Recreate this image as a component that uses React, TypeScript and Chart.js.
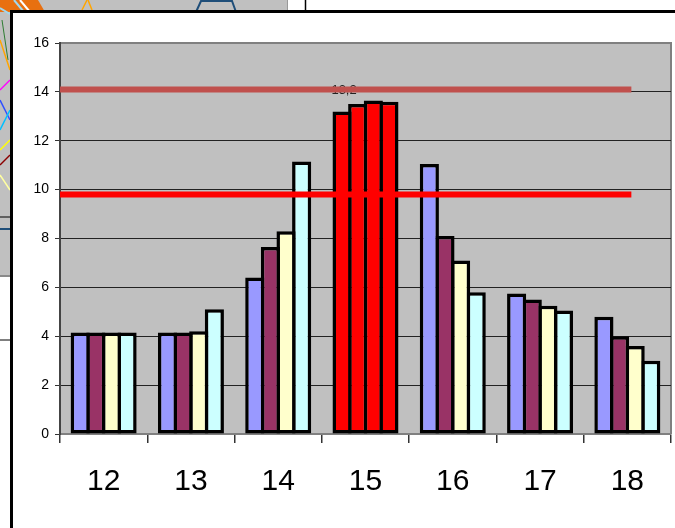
import React, { useEffect, useRef } from "react";
import { Chart, registerables } from "chart.js";

Chart.register(...registerables);

// ---- data ----
const categories = ["12", "13", "14", "15", "16", "17", "18"];
const series1 = [4.15, 4.15, 6.4, 13.2, 11.05, 5.75, 4.8];
const series2 = [4.15, 4.15, 7.65, 13.5, 8.1, 5.5, 4.0];
const series3 = [4.15, 4.2, 8.3, 13.65, 7.1, 5.25, 3.6];
const series4 = [4.15, 5.1, 11.15, 13.6, 5.8, 5.05, 3.0];
const seriesColors = ["#9999FF", "#993366", "#FFFFCC", "#CCFFFF"];
const highlightIndex = 3;
const highlightColor = "#FF0000";
const refLineValues = [14.1, 9.8];
const refLineColors = ["#C0504D", "#FF0000"];
const barLabelTexts = ["13,2"];
const barLabelSeries = [0];
const barLabelIndex = [3];

const FONT = "'Liberation Sans', Arial, sans-serif";
const BORDER = 3.5;

const plotBgPlugin = {
  id: "plotBg",
  beforeDraw(chart: any) {
    const { ctx, chartArea: a } = chart;
    ctx.save();
    ctx.fillStyle = "#C0C0C0";
    ctx.fillRect(a.left, a.top, a.right - a.left, a.bottom - a.top);
    ctx.strokeStyle = "#808080";
    ctx.lineWidth = 2;
    ctx.beginPath();
    ctx.moveTo(a.left, a.top);
    ctx.lineTo(a.right, a.top);
    ctx.lineTo(a.right, a.bottom);
    ctx.stroke();
    ctx.restore();
  },
};

const barLabelPlugin = {
  id: "barLabel",
  afterDatasetsDraw(chart: any) {
    const { ctx } = chart;
    ctx.save();
    ctx.font = `13px ${FONT}`;
    ctx.fillStyle = "#222";
    ctx.textAlign = "center";
    ctx.textBaseline = "middle";
    barLabelTexts.forEach((t, i) => {
      const el = chart.getDatasetMeta(barLabelSeries[i]).data[barLabelIndex[i]];
      if (el) ctx.fillText(t, el.x + 2, el.y - 21);
    });
    ctx.restore();
  },
};

const refLinePlugin = {
  id: "refLines",
  afterDatasetsDraw(chart: any) {
    const { ctx, chartArea: a, scales } = chart;
    const xEnd = scales.x.getPixelForValue(categories.length - 1) + 4;
    ctx.save();
    ctx.lineWidth = 6;
    ctx.lineCap = "butt";
    refLineValues.forEach((v, i) => {
      const y = scales.y.getPixelForValue(v);
      ctx.strokeStyle = refLineColors[i];
      ctx.beginPath();
      ctx.moveTo(a.left, y);
      ctx.lineTo(xEnd, y);
      ctx.stroke();
    });
    ctx.restore();
  },
};

function colorsFor(base: string) {
  return categories.map((_, i) => (i === highlightIndex ? highlightColor : base));
}

export default function App() {
  const ref = useRef<HTMLCanvasElement | null>(null);

  useEffect(() => {
    if (!ref.current) return;
    const all = [series1, series2, series3, series4];
    const chart = new Chart(ref.current, {
      type: "bar",
      data: {
        labels: categories,
        datasets: all.map((d, i) => ({
          label: `S${i + 1}`,
          data: d,
          backgroundColor: colorsFor(seriesColors[i]),
          borderColor: "#000",
          borderWidth: BORDER,
          borderSkipped: false,
          categoryPercentage: 0.716,
          barPercentage: 1.225,
        })),
      },
      options: {
        responsive: false,
        animation: false,
        devicePixelRatio: 1,
        layout: { padding: { top: 43, right: 4, left: 0, bottom: 0 } },
        plugins: {
          legend: { display: false },
          tooltip: { enabled: false },
        },
        scales: {
          x: {
            afterFit(scale: any) {
              scale.height = 94;
            },
            grid: {
              offset: true,
              drawOnChartArea: false,
              drawTicks: true,
              tickLength: 9,
              tickColor: "#333",
              lineWidth: 1.5,
            },
            border: { display: true, color: "#808080", width: 2 },
            ticks: {
              padding: 21,
              color: "#000",
              font: { family: FONT, size: 30 },
            },
          },
          y: {
            min: 0,
            max: 16,
            afterFit(scale: any) {
              scale.width = 60;
            },
            ticks: {
              stepSize: 2,
              padding: 6,
              color: "#000",
              font: { family: FONT, size: 14 },
            },
            grid: {
              color: (c: any) =>
                c.tick && (c.tick.value === 0 || c.tick.value === 16) ? "rgba(0,0,0,0)" : "#222",
              tickColor: "#333",
              tickLength: 5,
              lineWidth: 1,
            },
            border: { display: true, color: "#444", width: 2 },
          },
        },
      },
      plugins: [plotBgPlugin, barLabelPlugin, refLinePlugin],
    });
    return () => chart.destroy();
  }, []);

  return (
    <div
      style={{
        position: "fixed",
        left: 0,
        top: 0,
        width: 675,
        height: 528,
        overflow: "hidden",
        background: "#fff",
      }}
    >
      <svg width={675} height={528} style={{ position: "absolute", left: 0, top: 0 }}>
        <rect x={0} y={0} width={288} height={12} fill="#C0C0C0" />
        <rect x={0} y={0} width={10} height={277} fill="#C0C0C0" />
        <polygon points="0,0 38,0 45,12 0,12" fill="#E87010" />
        <line x1={20} y1={0} x2={30} y2={12} stroke="#fff" strokeWidth={2} />
        <line x1={14} y1={0} x2={24} y2={12} stroke="#9FD8F0" strokeWidth={2} />
        <line x1={0} y1={8} x2={10} y2={14} stroke="#9FD8F0" strokeWidth={2} />
        <line x1={82} y1={10} x2={87} y2={0} stroke="#FFA500" strokeWidth={1.5} />
        <line x1={92} y1={10} x2={88} y2={0} stroke="#FFA500" strokeWidth={1.5} />
        <path d="M196,12 L201,1 L232,1 L236,12" stroke="#1F4E79" strokeWidth={2} fill="none" />
        <line x1={2} y1={20} x2={8} y2={60} stroke="#2E7D32" strokeWidth={1} />
        <line x1={0} y1={40} x2={10} y2={70} stroke="#FFA500" strokeWidth={1.5} />
        <line x1={0} y1={90} x2={10} y2={80} stroke="#FF00FF" strokeWidth={1.5} />
        <line x1={0} y1={100} x2={10} y2={120} stroke="#3050FF" strokeWidth={1.5} />
        <line x1={0} y1={130} x2={10} y2={110} stroke="#00BFFF" strokeWidth={1.5} />
        <line x1={0} y1={150} x2={10} y2={140} stroke="#FFFF00" strokeWidth={1.5} />
        <line x1={0} y1={165} x2={10} y2={155} stroke="#8B0000" strokeWidth={1.5} />
        <line x1={0} y1={175} x2={10} y2={190} stroke="#FFFFA0" strokeWidth={1.5} />
        <line x1={0} y1={217} x2={10} y2={217} stroke="#000" strokeWidth={1} />
        <line x1={0} y1={229} x2={10} y2={229} stroke="#1F4E79" strokeWidth={2} />
        <line x1={0} y1={276} x2={10} y2={276} stroke="#555" strokeWidth={1} />
        <line x1={0} y1={340} x2={10} y2={340} stroke="#000" strokeWidth={1} />
        <line x1={287.5} y1={0} x2={287.5} y2={12} stroke="#999" strokeWidth={1} />
        <line x1={305.5} y1={0} x2={305.5} y2={12} stroke="#000" strokeWidth={1.5} />
      </svg>
      <div
        style={{
          position: "absolute",
          left: 10,
          top: 10,
          width: 700,
          height: 560,
          border: "3px solid #000",
          background: "#fff",
        }}
      />
      <canvas
        ref={ref}
        width={675}
        height={528}
        style={{ position: "absolute", left: 0, top: 0, width: 675, height: 528 }}
      />
    </div>
  );
}
